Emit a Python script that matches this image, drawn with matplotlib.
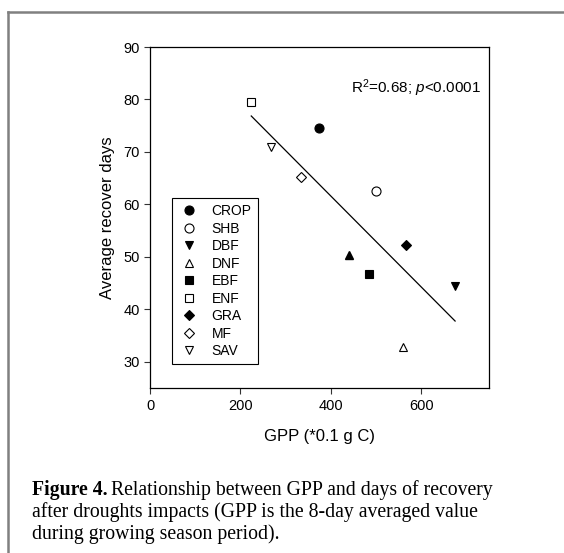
import numpy as np
import matplotlib
matplotlib.use('Agg')
import matplotlib.pyplot as plt
from matplotlib.lines import Line2D

plt.rcParams['font.family'] = 'Liberation Sans'
plt.rcParams['mathtext.fontset'] = 'custom'
plt.rcParams['mathtext.rm'] = 'Liberation Sans'
plt.rcParams['mathtext.it'] = 'Liberation Sans:italic'

# biome types, in legend order
types = ['CROP', 'SHB', 'DBF', 'DNF', 'EBF', 'ENF', 'GRA', 'MF', 'SAV']
gpp = [373, 500, 675, 559, 484, 224, 567, 333, 267]
days = [74.5, 62.5, 44.5, 32.9, 46.8, 79.5, 52.2, 65.2, 71.0]
markers = ['o', 'o', 'v', '^', 's', 's', 'D', 'D', 'v']
filled = [True, False, True, False, True, False, True, False, False]

# one extra point drawn as a filled up-triangle (not listed in the legend)
extra_gpp = [441]
extra_days = [50.4]

caption_bold = 'Figure 4.'
caption_rest = ['Relationship between GPP and days of recovery',
                'after droughts impacts (GPP is the 8-day averaged value',
                'during growing season period).']

fig = plt.figure(figsize=(5.64, 5.53), dpi=100)
ax = fig.add_axes([0.266, 0.298, 0.601, 0.617])

handles = []
for t, x, y, m, f in zip(types, gpp, days, markers, filled):
    ms = 6.5 if m == 'o' else 6
    if m == 'D':
        ms = 5.5
    h, = ax.plot(x, y, linestyle='none', marker=m, markersize=ms,
                 markerfacecolor='black' if f else 'white',
                 markeredgecolor='black', markeredgewidth=0.8, label=t)
    handles.append(h)
ax.plot(extra_gpp, extra_days, linestyle='none', marker='^', markersize=6,
        color='black', label='_nolegend_')

# linear fit over all points
all_x = np.array(gpp + extra_gpp, dtype=float)
all_y = np.array(days + extra_days, dtype=float)
k, b = np.polyfit(all_x, all_y, 1)
xs = np.array([all_x.min(), all_x.max()])
ax.plot(xs, k * xs + b, color='black', linewidth=0.9)

ax.text(0.975, 0.88, r'R$^\mathregular{2}$=0.68; $p$<0.0001', transform=ax.transAxes,
        ha='right', va='center', fontsize=11)

ax.set_xlim(0, 750)
ax.set_ylim(25, 90)
ax.set_xticks([0, 200, 400, 600])
ax.set_yticks([30, 40, 50, 60, 70, 80, 90])
ax.tick_params(labelsize=10.5, direction='out', length=4, width=0.8, color='#333333')
for s in ax.spines.values():
    s.set_linewidth(0.9)
ax.set_xlabel('GPP (*0.1 g C)', fontsize=12, labelpad=12)
ax.set_ylabel('Average recover days', fontsize=12, labelpad=6)

leg = ax.legend(handles=handles, loc='lower left', bbox_to_anchor=(0.065, 0.07),
                frameon=True, fancybox=False, edgecolor='black', framealpha=1,
                fontsize=10, labelspacing=0.25, handletextpad=0.9, borderpad=0.45,
                handlelength=1.5, borderaxespad=0)
leg.get_frame().set_linewidth(0.8)

# caption
cap_size = 14.2
fig.text(32 / 564, 1 - 490 / 553, caption_bold, fontsize=cap_size, family='Liberation Serif',
         weight='bold', va='center')
fig.text(111 / 564, 1 - 490 / 553, caption_rest[0], fontsize=cap_size,
         family='Liberation Serif', va='center')
fig.text(32 / 564, 1 - 512 / 553, caption_rest[1], fontsize=cap_size,
         family='Liberation Serif', va='center')
fig.text(32 / 564, 1 - 534 / 553, caption_rest[2], fontsize=cap_size,
         family='Liberation Serif', va='center')

# page frame (left and top edges)
fig.add_artist(Line2D([8 / 564, 8 / 564], [0, 1 - 12 / 553], color='#808080', linewidth=1.8))
fig.add_artist(Line2D([8 / 564, 1], [1 - 12 / 553, 1 - 12 / 553], color='#808080', linewidth=1.8))

fig.savefig('out.png', dpi=100)
